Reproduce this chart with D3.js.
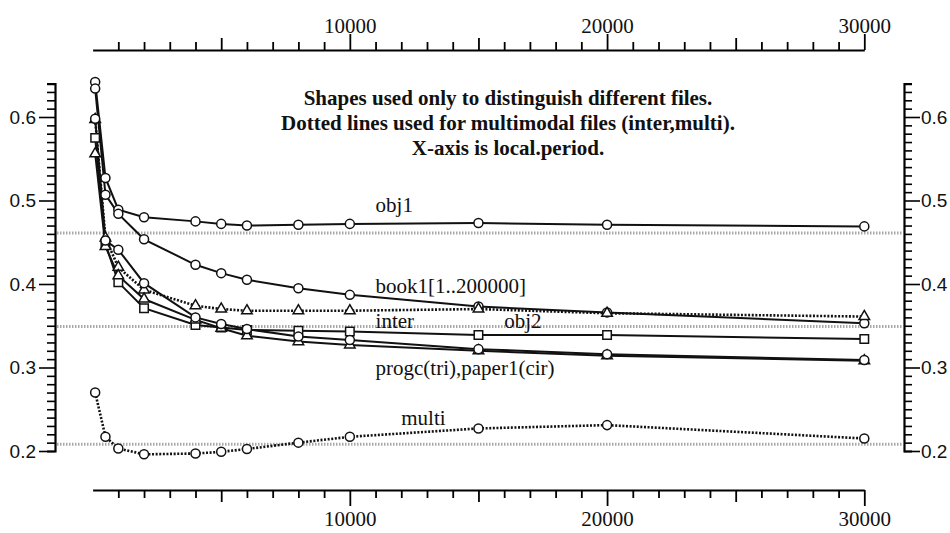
<!DOCTYPE html>
<html><head><meta charset="utf-8">
<script src="https://cdn.jsdelivr.net/npm/d3@7"></script>
<style>body{margin:0;background:#fff}</style>
</head><body><svg id="c" width="950" height="533"></svg>
<script>
// ---- data ----
const xValues = [100,500,1000,2000,4000,5000,6000,8000,10000,15000,20000,30000];
const obj1   = [0.642,0.527,0.489,0.480,0.475,0.472,0.470,0.471,0.472,0.473,0.471,0.469];
const book1  = [0.634,0.507,0.484,0.4535,0.423,0.413,0.405,0.395,0.387,0.373,0.366,0.353];
const inter  = [0.597,0.455,0.420,0.393,0.374,0.370,0.368,0.368,0.368,0.370,0.365,0.361];
const obj2   = [0.575,0.448,0.402,0.371,0.351,0.348,0.345,0.344,0.343,0.339,0.339,0.334];
const progc  = [0.556,0.445,0.410,0.382,0.357,0.347,0.338,0.331,0.327,0.320,0.314,0.308];
const paper1 = [0.598,0.452,0.441,0.401,0.360,0.352,0.346,0.337,0.333,0.322,0.316,0.309];
const multi  = [0.270,0.217,0.203,0.196,0.197,0.199,0.2024,0.210,0.217,0.227,0.231,0.215];

const seriesNames  = ["obj1","book1","inter","obj2","progc","paper1","multi"];
const seriesData   = [obj1, book1, inter, obj2, progc, paper1, multi];
const seriesShapes = ["circle","circle","triangle","square","triangle","circle","circle"];
const seriesDotted = [false,false,true,false,false,false,true];

const refLevels = [0.461, 0.349, 0.208];
const xTickLabels = [10000, 20000, 30000];
const yTickLabels = [0.2, 0.3, 0.4, 0.5, 0.6];
const titleLines = [
  "Shapes used only to distinguish different files.",
  "Dotted lines used for multimodal files (inter,multi).",
  "X-axis is local.period."
];
const labelTexts = ["obj1","book1[1..200000]","inter","obj2","progc(tri),paper1(cir)","multi"];
const labelX = [11000, 11000, 11000, 16000, 11000, 12000];
const labelY = [0.486, 0.389, 0.347, 0.347, 0.291, 0.231];

// ---- scales ----
const svg = d3.select("#c");
const x = d3.scaleLinear().domain([0, 30000]).range([92.6, 864.3]);
const y = d3.scaleLinear().domain([0.2, 0.64]).range([451, 451 - 0.44 * 835]);

const serif = "'Liberation Serif','Times New Roman',serif";
const sans = "'Liberation Sans',Arial,sans-serif";

// reference lines
svg.append("g").selectAll("line").data(refLevels).join("line")
  .attr("x1", 57).attr("x2", 903)
  .attr("y1", d => y(d)).attr("y2", d => y(d))
  .attr("stroke", "#a8a8a8").attr("stroke-width", 3).attr("stroke-dasharray", "1.5,1.5");

// x ticks
const xt = d3.range(1000, 30001, 1000);
function tickLen(d) { return d % 10000 === 0 ? 16 : (d % 5000 === 0 ? 12 : 8); }
const fmtX = d => xTickLabels.includes(d) ? String(d) : "";

const gTop = svg.append("g").attr("transform", "translate(0,50)")
  .call(d3.axisTop(x).tickValues(xt).tickSizeOuter(0).tickFormat(fmtX));
gTop.selectAll(".tick line").attr("y2", d => -tickLen(d));
gTop.selectAll(".tick text").attr("y", -17).attr("dy", null);

const gBot = svg.append("g").attr("transform", "translate(0,490)")
  .call(d3.axisBottom(x).tickValues(xt).tickSizeOuter(0).tickFormat(fmtX));
gBot.selectAll(".tick line").attr("y2", d => tickLen(d));
gBot.selectAll(".tick text").attr("y", 36).attr("dy", null);

[gTop, gBot].forEach(g => {
  g.select(".domain").attr("stroke-width", 2.2);
  g.selectAll(".tick line").attr("stroke-width", 1.8);
  g.selectAll(".tick text").attr("font-family", serif).attr("font-size", 21).attr("fill", "#111");
});

// y ticks
const yt = d3.range(20, 65).map(d => d / 100);
const isMajorY = d => Math.round(d * 100) % 10 === 0;
const fmtY = d => yTickLabels.some(v => Math.abs(v - d) < 1e-9) ? d3.format(".1f")(d) : "";

const gL = svg.append("g").attr("transform", "translate(55,0)")
  .call(d3.axisLeft(y).tickValues(yt).tickSizeOuter(0).tickSize(8).tickFormat(fmtY));
gL.selectAll(".tick line").attr("x2", d => isMajorY(d) ? -16 : -8);
gL.selectAll(".tick text").attr("x", -19);

const gR = svg.append("g").attr("transform", "translate(904,0)")
  .call(d3.axisRight(y).tickValues(yt).tickSizeOuter(0).tickSize(8).tickFormat(fmtY));
gR.selectAll(".tick line").attr("x2", d => isMajorY(d) ? 16 : 8);
gR.selectAll(".tick text").attr("x", 17);

[gL, gR].forEach(g => {
  g.select(".domain").attr("stroke-width", 2.2);
  g.selectAll(".tick line").attr("stroke-width", 1.6);
  g.selectAll(".tick text").attr("font-family", sans).attr("font-size", 19).attr("fill", "#111");
});

// series lines
const line = d3.line().x((d, i) => x(xValues[i])).y(d => y(d));
seriesData.forEach((s, k) => {
  svg.append("path").datum(s)
    .attr("d", line)
    .attr("fill", "none")
    .attr("stroke", "#111")
    .attr("stroke-width", seriesDotted[k] ? 2.6 : 2)
    .attr("stroke-dasharray", seriesDotted[k] ? "2,1.6" : null);
});

// markers
const symType = { circle: d3.symbolCircle, square: d3.symbolSquare, triangle: d3.symbolTriangle };
const symSize = { circle: 64, square: 72, triangle: 48 };
seriesData.forEach((s, k) => {
  const sym = d3.symbol().type(symType[seriesShapes[k]]).size(symSize[seriesShapes[k]]);
  svg.append("g").selectAll("path").data(s).join("path")
    .attr("d", sym)
    .attr("transform", (d, i) => `translate(${x(xValues[i])},${y(d)})`)
    .attr("fill", "#fff")
    .attr("stroke", "#111")
    .attr("stroke-width", 1.5);
});

// labels
svg.append("g").selectAll("text").data(labelTexts).join("text")
  .attr("x", (d, i) => x(labelX[i]))
  .attr("y", (d, i) => y(labelY[i]))
  .attr("font-family", serif).attr("font-size", 21).attr("fill", "#111")
  .text(d => d);

// title
svg.append("g").selectAll("text").data(titleLines).join("text")
  .attr("x", 508).attr("y", (d, i) => 105 + i * 25)
  .attr("text-anchor", "middle")
  .attr("font-family", serif).attr("font-weight", "bold").attr("font-size", 21).attr("fill", "#111")
  .text(d => d);
</script></body></html>
